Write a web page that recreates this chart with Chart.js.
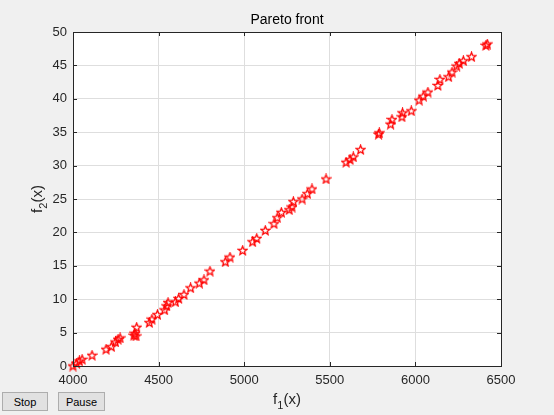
<!DOCTYPE html>
<html>
<head>
<meta charset="utf-8">
<script src="https://cdn.jsdelivr.net/npm/chart.js@4"></script>
<style>
  html, body { margin: 0; padding: 0; background: #f0f0f0; }
  #wrap { position: relative; width: 554px; height: 415px; }
  canvas { position: absolute; left: 0; top: 0; }
  .btn {
    position: absolute; top: 392px; height: 19px;
    font: 11px "Liberation Sans", Arial, sans-serif; color: #000;
    background: #e1e1e1; border: 1px solid #adadad; padding: 0;
  }
</style>
</head>
<body>
<div id="wrap">
  <canvas id="pareto" width="554" height="415"></canvas>
  <button class="btn" style="left:2px;width:46px">Stop</button>
  <button class="btn" style="left:58px;width:47px">Pause</button>
</div>
<script>
// valores
const f1 = [4000, 4021, 4037, 4053, 4111, 4193, 4224, 4248, 4263, 4275, 4356, 4362, 4368, 4372,
  4446, 4461, 4493, 4535, 4547, 4555, 4598, 4617, 4648, 4687, 4738, 4765, 4800, 4890, 4917, 4991,
  5049, 5073, 5123, 5174, 5193, 5217, 5263, 5279, 5287, 5338, 5369, 5396, 5478, 5595, 5618, 5637,
  5680, 5785, 5789, 5855, 5863, 5921, 5925, 5976, 6022, 6046, 6073, 6131, 6143, 6194, 6214, 6241,
  6256, 6280, 6328, 6412, 6420];
const f2 = [0, 0.4, 0.75, 1.0, 1.6, 2.5, 2.9, 3.6, 4.0, 4.2, 4.6, 4.9, 4.5, 5.8,
  6.5, 7.0, 7.7, 8.4, 9.0, 9.5, 9.6, 10.1, 10.7, 11.7, 12.4, 12.9, 14.2, 15.6, 16.3, 17.3,
  18.6, 19.1, 20.3, 21.3, 22.2, 23.0, 23.4, 23.8, 24.6, 25.0, 25.8, 26.5, 28.0, 30.5, 30.9, 31.3,
  32.4, 34.7, 34.9, 36.2, 36.9, 37.3, 37.9, 38.2, 39.8, 40.4, 41.0, 42.0, 42.9, 43.3, 44.0, 44.9,
  45.3, 45.7, 46.3, 48.0, 48.2];
const xTicks = [4000, 4500, 5000, 5500, 6000, 6500];
const yTicks = [0, 5, 10, 15, 20, 25, 30, 35, 40, 45, 50];
const titulo = 'Pareto front';

const FONT = '"Liberation Sans", Arial, sans-serif';
const AXIS = '#262626';

// marcador em forma de pentagrama (estilo matlab 'p')
function makeStar() {
    const c = document.createElement('canvas');
    c.width = 11; c.height = 11;
    const g = c.getContext('2d');
    g.strokeStyle = '#ff0000';
    g.lineWidth = 1.3;
    g.lineJoin = 'miter';
    g.beginPath();
    for (let i = 0; i < 10; i++) {
        const r = i % 2 === 0 ? 4.6 : 2.0;
        const a = -Math.PI / 2 + i * Math.PI / 5;
        const x = 5.5 + r * Math.cos(a), y = 5.8 + r * Math.sin(a);
        if (i === 0) g.moveTo(x, y); else g.lineTo(x, y);
    }
    g.closePath();
    g.stroke();
    return c;
}

// caixa, ticks internos, título e rótulos dos eixos
const moldura = {
    id: 'moldura',
    beforeDraw(chart) {
        const { ctx, chartArea: a } = chart;
        ctx.save();
        ctx.fillStyle = '#ffffff';
        ctx.fillRect(a.left, a.top, a.right - a.left, a.bottom - a.top);
        ctx.restore();
    },
    afterDraw(chart) {
        const { ctx, chartArea: a, scales } = chart;
        ctx.save();
        ctx.strokeStyle = AXIS;
        ctx.lineWidth = 1;
        ctx.strokeRect(a.left + 0.5, a.top + 0.5, a.right - a.left, a.bottom - a.top);
        ctx.beginPath();
        xTicks.forEach(v => {
            const x = Math.round(scales.x.getPixelForValue(v)) + 0.5;
            ctx.moveTo(x, a.bottom); ctx.lineTo(x, a.bottom - 4);
            ctx.moveTo(x, a.top); ctx.lineTo(x, a.top + 4);
        });
        yTicks.forEach(v => {
            const y = Math.round(scales.y.getPixelForValue(v)) + 0.5;
            ctx.moveTo(a.left, y); ctx.lineTo(a.left + 4, y);
            ctx.moveTo(a.right, y); ctx.lineTo(a.right - 4, y);
        });
        ctx.stroke();

        ctx.fillStyle = '#000';
        ctx.font = '14px ' + FONT;
        ctx.textAlign = 'center';
        ctx.textBaseline = 'middle';
        ctx.fillText(titulo, (a.left + a.right) / 2, 20);

        // f_1(x)
        ctx.fillStyle = AXIS;
        const cx = (a.left + a.right) / 2;
        ctx.font = '15px ' + FONT;
        const wf = ctx.measureText('f').width;
        const wp = ctx.measureText('(x)').width;
        ctx.font = '11px ' + FONT;
        const ws = ctx.measureText('1').width;
        let x0 = cx - (wf + ws + wp) / 2;
        ctx.textAlign = 'left';
        ctx.textBaseline = 'alphabetic';
        ctx.font = '15px ' + FONT;
        ctx.fillText('f', x0, 404);
        ctx.font = '11px ' + FONT;
        ctx.fillText('1', x0 + wf, 409);
        ctx.font = '15px ' + FONT;
        ctx.fillText('(x)', x0 + wf + ws, 404);

        // f_2(x)
        ctx.translate(42, (a.top + a.bottom) / 2);
        ctx.rotate(-Math.PI / 2);
        x0 = -(wf + ws + wp) / 2;
        ctx.fillText('f', x0, 0);
        ctx.font = '11px ' + FONT;
        ctx.fillText('2', x0 + wf, 5);
        ctx.font = '15px ' + FONT;
        ctx.fillText('(x)', x0 + wf + ws, 0);
        ctx.restore();
    }
};

const pontos = f1.map((v, i) => ({ x: v, y: f2[i] }));

new Chart(document.getElementById('pareto'), {
    type: 'scatter',
    data: {
        datasets: [{
            data: pontos,
            pointStyle: makeStar(),
            pointRadius: 5,
            pointHoverRadius: 5,
            clip: false
        }]
    },
    options: {
        responsive: false,
        animation: false,
        events: [],
        layout: { padding: { left: 0, top: 32, right: 53, bottom: 0 } },
        plugins: { legend: { display: false }, tooltip: { enabled: false } },
        scales: {
            x: {
                type: 'linear', min: 4000, max: 6500,
                afterFit: s => { s.height = 49; },
                afterBuildTicks: s => { s.ticks = xTicks.map(v => ({ value: v })); },
                grid: { color: '#dedede', drawTicks: false },
                border: { display: false },
                ticks: {
                    color: AXIS, font: { family: FONT, size: 13 }, padding: 7, maxRotation: 0,
                    callback: v => String(v)
                }
            },
            y: {
                type: 'linear', min: 0, max: 50,
                afterFit: s => { s.width = 73; },
                afterBuildTicks: s => { s.ticks = yTicks.map(v => ({ value: v })); },
                grid: { color: '#dedede', drawTicks: false },
                border: { display: false },
                ticks: {
                    color: AXIS, font: { family: FONT, size: 13 }, padding: 6,
                    callback: v => String(v)
                }
            }
        }
    },
    plugins: [moldura]
});
</script>
</body>
</html>
